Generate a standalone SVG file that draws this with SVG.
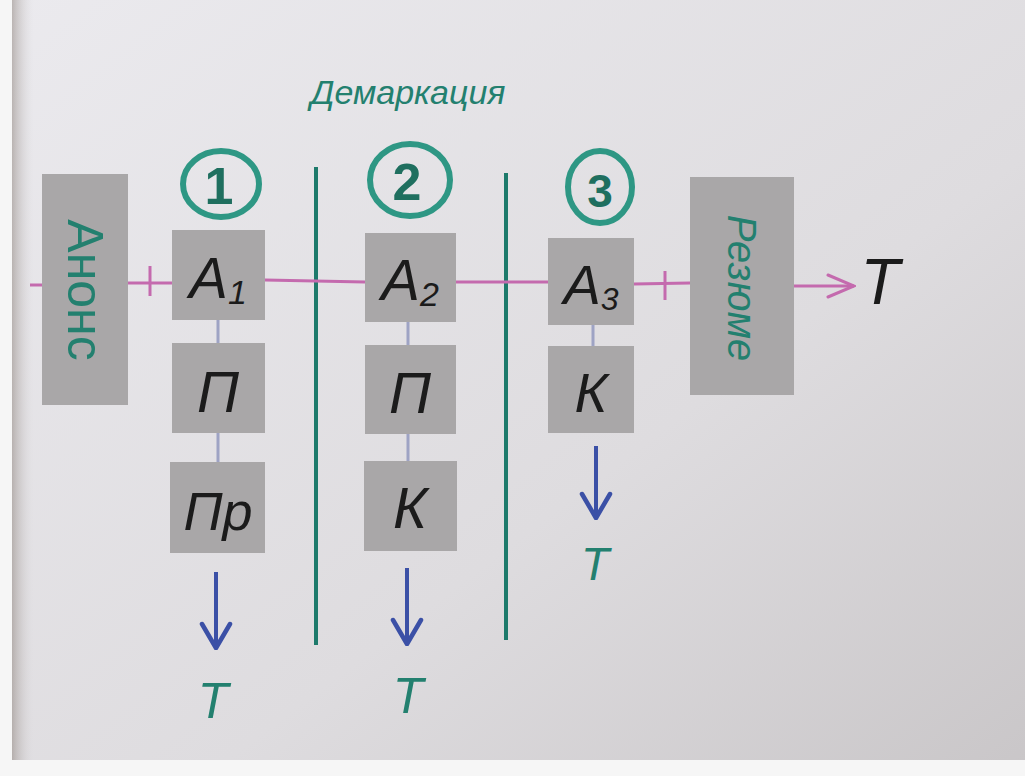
<svg xmlns="http://www.w3.org/2000/svg" width="1025" height="776" viewBox="0 0 1025 776">
<defs>
<linearGradient id="bg" x1="0" y1="0" x2="1" y2="1">
<stop offset="0" stop-color="#ebeaee"/>
<stop offset="0.6" stop-color="#dedcdf"/>
<stop offset="1" stop-color="#c9c6c8"/>
</linearGradient>
<linearGradient id="edge" x1="0" y1="0" x2="1" y2="0">
<stop offset="0" stop-color="#8a7f78"/>
<stop offset="1" stop-color="#d8d6d8" stop-opacity="0"/>
</linearGradient>
<marker id="pink" viewBox="0 0 30 26" refX="28" refY="13" markerWidth="30" markerHeight="26" markerUnits="userSpaceOnUse" orient="auto">
<path d="M2,2 L28,13 L2,24" fill="none" stroke="#c46aae" stroke-width="3" stroke-linecap="round"/>
</marker>
<marker id="blue" viewBox="0 0 34 34" refX="17" refY="32" markerWidth="34" markerHeight="34" markerUnits="userSpaceOnUse" orient="0">
<path d="M3,8 L17,32 L31,8" fill="none" stroke="#3b50a6" stroke-width="4.5" stroke-linecap="round" stroke-linejoin="round"/>
</marker>
</defs>
<style>
.box{fill:#a9a7a8}
.lbl{font-family:"Liberation Sans","DejaVu Sans",sans-serif;font-style:italic;fill:#1b1b1b;text-anchor:middle}
.teal{font-family:"Liberation Sans","DejaVu Sans",sans-serif;fill:#23806f;text-anchor:middle}
.num{font-family:"Liberation Sans","DejaVu Sans",sans-serif;font-weight:bold;fill:#1f6f5f;text-anchor:middle}
.ring{fill:none;stroke:#2e9784;stroke-width:6}
.div{stroke:#1d7a6b;stroke-width:4}
.link{stroke:#9ea3c4;stroke-width:3}
.flow{stroke:#c46aae;stroke-width:3;fill:none}
.down{stroke:#3b50a6;stroke-width:4;fill:none}
</style>
<rect width="1025" height="776" fill="url(#bg)"/>
<rect x="0" y="0" width="12" height="776" fill="#f6f6f6"/>
<rect x="12" y="0" width="22" height="776" fill="url(#edge)" opacity="0.5"/>
<rect x="0" y="760" width="1025" height="16" fill="#f6f6f6"/>

<text class="teal" x="408" y="104" font-size="34" font-style="italic">Демаркация</text>

<g id="dividers">
<line class="div" x1="316" y1="167" x2="316" y2="645"/>
<line class="div" x1="506" y1="173" x2="506" y2="640"/>
</g>

<g id="connectors">
<line class="flow" x1="30" y1="285" x2="42" y2="285"/>
<line class="flow" x1="128" y1="283" x2="172" y2="283"/>
<line class="flow" x1="150" y1="266" x2="150" y2="296"/>
<line class="flow" x1="265" y1="280" x2="365" y2="282"/>
<line class="flow" x1="456" y1="282" x2="548" y2="282"/>
<line class="flow" x1="634" y1="284" x2="690" y2="283"/>
<line class="flow" x1="665" y1="271" x2="665" y2="300"/>
<line class="flow" x1="794" y1="286" x2="854" y2="286" marker-end="url(#pink)"/>
<line class="link" x1="218" y1="320" x2="218" y2="343"/>
<line class="link" x1="218" y1="433" x2="218" y2="462"/>
<line class="link" x1="408" y1="322" x2="408" y2="345"/>
<line class="link" x1="408" y1="434" x2="408" y2="461"/>
<line class="link" x1="593" y1="325" x2="593" y2="346"/>
<line class="down" x1="216" y1="572" x2="216" y2="648" marker-end="url(#blue)"/>
<line class="down" x1="407" y1="568" x2="407" y2="644" marker-end="url(#blue)"/>
<line class="down" x1="596" y1="446" x2="596" y2="518" marker-end="url(#blue)"/>
</g>

<g id="anons">
<rect class="box" x="42" y="174" width="86" height="231"/>
<text class="teal" transform="translate(85,290) rotate(90)" y="17" font-size="50">Анонс</text>
</g>
<g id="rezume">
<rect class="box" x="690" y="177" width="104" height="218"/>
<text class="teal" transform="translate(742,288) rotate(90)" y="14" font-size="40" font-style="italic">Резюме</text>
</g>

<g id="circle1"><ellipse class="ring" cx="221" cy="184" rx="38" ry="33"/><text class="num" x="219" y="204" font-size="52">1</text></g>
<g id="circle2"><ellipse class="ring" cx="410" cy="180" rx="40" ry="36"/><text class="num" x="407" y="200" font-size="52">2</text></g>
<g id="circle3"><ellipse class="ring" cx="600" cy="187" rx="32" ry="36"/><text class="num" x="600" y="207" font-size="46">3</text></g>

<g id="a1"><rect class="box" x="172" y="230" width="93" height="90"/><text class="lbl" x="218" y="298" font-size="58">А<tspan font-size="34" dy="6">1</tspan></text></g>
<g id="p1"><rect class="box" x="172" y="343" width="93" height="90"/><text class="lbl" x="218" y="412" font-size="58">П</text></g>
<g id="pr1"><rect class="box" x="170" y="462" width="95" height="91"/><text class="lbl" x="218" y="530" font-size="54">Пр</text></g>

<g id="a2"><rect class="box" x="365" y="233" width="91" height="89"/><text class="lbl" x="410" y="300" font-size="58">А<tspan font-size="34" dy="6">2</tspan></text></g>
<g id="p2"><rect class="box" x="365" y="345" width="91" height="89"/><text class="lbl" x="410" y="413" font-size="58">П</text></g>
<g id="k2"><rect class="box" x="364" y="461" width="93" height="90"/><text class="lbl" x="410" y="528" font-size="58">К</text></g>

<g id="a3"><rect class="box" x="548" y="238" width="86" height="87"/><text class="lbl" x="591" y="304" font-size="56">А<tspan font-size="32" dy="6">3</tspan></text></g>
<g id="k3"><rect class="box" x="548" y="346" width="86" height="87"/><text class="lbl" x="591" y="412" font-size="56">К</text></g>

<g id="t-main"><text class="lbl" x="880" y="304" font-size="64" font-style="normal">Т</text></g>
<g id="t1"><text class="teal" x="213" y="718" font-size="50" font-style="italic">Т</text></g>
<g id="t2"><text class="teal" x="408" y="713" font-size="50" font-style="italic">Т</text></g>
<g id="t3"><text class="teal" x="595" y="580" font-size="46" font-style="italic">Т</text></g>
</svg>
